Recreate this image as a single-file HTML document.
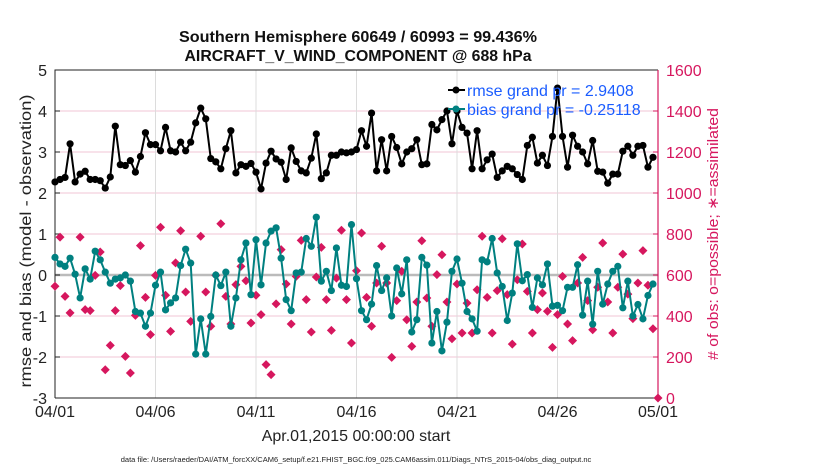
<!DOCTYPE html>
<html><head><meta charset="utf-8"><style>
body{margin:0;background:#fff;width:830px;height:470px;overflow:hidden;font-family:"Liberation Sans",sans-serif}
svg text{font-family:"Liberation Sans",sans-serif}
</style></head><body>
<svg id="chart" width="830" height="470" viewBox="0 0 830 470" xmlns="http://www.w3.org/2000/svg">
<text x="358" y="42" text-anchor="middle" font-size="16" font-weight="bold" fill="#111" textLength="358" lengthAdjust="spacingAndGlyphs">Southern Hemisphere 60649 / 60993 = 99.436%</text>
<text x="358" y="61" text-anchor="middle" font-size="16" font-weight="bold" fill="#111" textLength="347" lengthAdjust="spacingAndGlyphs">AIRCRAFT_V_WIND_COMPONENT @ 688 hPa</text>
<g id="grid"></g>
<g id="axes"></g>
<g id="marks"></g>
<text transform="translate(31,241) rotate(-90)" text-anchor="middle" font-size="16" fill="#222" textLength="293" lengthAdjust="spacingAndGlyphs">rmse and bias (model - observation)</text>
<text transform="translate(718,234) rotate(-90)" text-anchor="middle" font-size="15" fill="#d6175e" textLength="252" lengthAdjust="spacingAndGlyphs"># of obs: o=possible; ∗=assimilated</text>
<text x="356" y="441" text-anchor="middle" font-size="16" fill="#222">Apr.01,2015 00:00:00 start</text>
<text x="356" y="462" text-anchor="middle" font-size="7.5" fill="#222">data file: /Users/raeder/DAI/ATM_forcXX/CAM6_setup/f.e21.FHIST_BGC.f09_025.CAM6assim.011/Diags_NTrS_2015-04/obs_diag_output.nc</text>
<g id="legend"></g>
</svg>
<script>
const rmse=[2.27,2.33,2.38,3.2,2.27,2.46,2.53,2.33,2.33,2.3,2.12,2.39,3.63,2.69,2.67,2.79,2.51,2.89,3.47,3.18,3.18,3.03,3.6,3.03,3.0,3.24,3.03,3.24,3.71,4.07,3.81,2.84,2.76,2.59,3.08,3.52,2.49,2.69,2.65,2.72,2.51,
2.1,2.73,3.02,2.83,2.75,2.33,3.1,2.77,2.54,2.49,2.85,3.44,2.35,2.49,2.92,2.92,3.0,2.98,3.0,3.06,3.52,3.14,3.95,2.54,3.3,2.54,3.38,3.11,2.71,3.0,3.08,3.3,2.69,2.71,3.67,3.54,3.79,4.0,3.2,4.0,
3.6,3.46,2.59,3.52,2.59,2.81,2.95,2.38,2.54,2.65,2.59,2.45,2.33,3.16,3.36,2.73,2.92,2.67,3.38,4.56,3.38,2.63,3.41,3.14,3.0,2.71,3.28,2.53,2.51,2.24,2.46,2.46,3.02,3.14,2.92,3.14,3.16,2.63,2.87];
const bias=[0.43,0.27,0.21,0.41,0.02,-0.56,0.15,-0.1,0.58,0.37,0.07,-0.2,-0.1,-0.07,0,-0.15,-0.89,-0.93,-1.25,-0.93,-0.25,0.07,-0.85,-0.68,-0.56,0.23,0.63,0.29,-1.93,-1.07,-1.93,-1.01,0,-0.26,0.07,-1.25,-0.56,0.37,0.78,-0.48,0.86,
-0.24,0.78,1.07,1.15,0.41,-0.6,-0.87,0.05,0.07,0.89,0.7,1.41,-0.15,0.09,-0.38,0.66,-0.25,-0.28,1.23,-0.09,-0.87,-1.09,-0.71,0.23,-0.38,-0.07,-1.0,0.17,-0.46,0.37,-1.39,-1.09,0.43,0.24,-1.66,-0.89,-1.85,-1.15,0.09,0.39,
-0.2,-0.89,-1.07,-1.37,0.37,0.32,0.89,0.05,-0.28,-1.11,-0.44,0.76,-0.14,0.01,-0.79,-0.07,-0.24,0.27,-0.76,-0.74,-0.87,-0.3,-0.3,0.25,-0.98,-0.15,-1.2,0.09,-0.71,-0.22,0.09,0.21,-0.8,-0.15,-1.0,-0.72,-1.07,-0.5,-0.22];
const nobs=[545,785,496,415,null,785,431,426,598,712,138,257,426,548,203,122,403,743,491,309,598,833,501,325,659,816,517,374,null,789,517,350,598,850,496,361,553,642,572,366,501,
407,163,114,459,724,556,361,593,769,480,322,590,735,480,330,585,818,480,268,621,805,491,350,561,740,561,198,475,618,382,252,468,767,488,350,602,699,468,289,556,
317,463,317,528,789,491,317,524,777,504,263,577,751,520,317,431,512,423,247,407,593,361,280,561,686,475,333,540,756,468,317,540,702,507,387,561,719,550,338,0];
const leftTicks=[-3,-2,-1,0,1,2,3,4,5];
const rightTicks=[0,200,400,600,800,1000,1200,1400,1600];
const xTickDays=[0,5,10,15,20,25,30];
const xTickLabels=["04/01","04/06","04/11","04/16","04/21","04/26","05/01"];
const legendLabels=["rmse grand pr = 2.9408","bias grand pr = -0.25118"];

const L=55,R=658,T=70,B=398;
const xs=d=>L+(d/30)*(R-L);
const yl=v=>B-(v+3)/8*(B-T);
const yr=v=>B-v/1600*(B-T);
const NS="http://www.w3.org/2000/svg";
function mk(tag,attrs,parent){const e=document.createElementNS(NS,tag);for(const k in attrs)e.setAttribute(k,attrs[k]);parent.appendChild(e);return e;}
const grid=document.getElementById('grid'),axes=document.getElementById('axes'),marks=document.getElementById('marks'),legend=document.getElementById('legend');

leftTicks.forEach(v=>{
  const g=mk('line',{x1:L,x2:R,y1:yl(v),y2:yl(v),stroke:'#f2c6d6','stroke-width':1},grid);
  
  
  const t=mk('text',{x:L-8,y:yl(v)+6,'text-anchor':'end','font-size':16,fill:'#222'},axes);
  t.textContent=v;
  
  
  mk('line',{x1:L,x2:L+5,y1:yl(v),y2:yl(v),stroke:'#222'},axes);
});
rightTicks.forEach(v=>{
  const t=mk('text',{x:R+8,y:yr(v)+6,'font-size':16,fill:'#d6175e'},axes);
  t.textContent=v;
  
  
  mk('line',{x1:R-5,x2:R,y1:yr(v),y2:yr(v),stroke:'#d6175e'},axes);
});
xTickDays.forEach((d,i)=>{
  const g=mk('line',{x1:xs(d),x2:xs(d),y1:T,y2:B,stroke:'#dcdcdc','stroke-width':1},grid);
  
  
  const t=mk('text',{x:xs(d),y:B+19,'text-anchor':'middle','font-size':16,fill:'#222'},axes);
  t.textContent=xTickLabels[i];
  
  
});
const zl=mk('line',{x1:L,x2:R,y1:yl(0),y2:yl(0),stroke:'#bbb','stroke-width':2.5},grid);


mk('path',{d:`M${L},${B}L${L},${T}L${R},${T}M${L},${B}L${R},${B}`,stroke:'#222',fill:'none','stroke-width':1},axes);
mk('line',{x1:R,x2:R,y1:T,y2:B,stroke:'#d6175e','stroke-width':1.2},axes);

function series(vals,color,name){
  const pts=vals.map((v,i)=>[xs(i*0.25),yl(v)]);
  const p=mk('polyline',{points:pts.map(p=>p.join(',')).join(' '),fill:'none',stroke:color,'stroke-width':2},marks);
  
  
  pts.forEach(q=>{
    const c=mk('circle',{cx:q[0],cy:q[1],r:3.6,fill:color},marks);
    
    
  });
}
nobs.forEach((v,i)=>{
  if(v===null)return;
  const x=xs(i*0.25),y=yr(v),s=4.5;
  const d=mk('polygon',{points:`${x},${y-s} ${x+s},${y} ${x},${y+s} ${x-s},${y}`,fill:'#d6175e'},marks);
  
  
});
series(bias,'#008080','bias');
series(rmse,'#000','rmse');

[['#000',90],['#008080',109]].forEach((c,i)=>{
  mk('line',{x1:448,y1:c[1],x2:465,y2:c[1],stroke:c[0],'stroke-width':2},legend);
  mk('circle',{cx:456,cy:c[1],r:3.5,fill:c[0]},legend);
  const t=mk('text',{x:467,y:c[1]+6,'font-size':16,fill:'#1a5cff'},legend);
  t.textContent=legendLabels[i];
  
  
});
</script>
</body></html>
